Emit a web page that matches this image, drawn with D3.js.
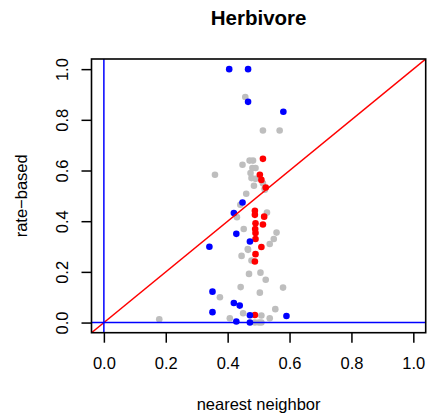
<!DOCTYPE html>
<html>
<head>
<meta charset="utf-8">
<script src="https://cdn.jsdelivr.net/npm/d3@7"></script>
<style>
  body { margin: 0; background: white; }
  text { font-family: "Liberation Sans", Arial, sans-serif; }
</style>
</head>
<body>
<div id="chart"></div>
<script>
// grey points (all pairs)
var greyX = [0.179, 0.359, 0.375, 0.407, 0.441, 0.442, 0.445, 0.448, 0.450, 0.452, 0.457, 0.460, 0.466, 0.469,
  0.471, 0.474, 0.477, 0.477, 0.480, 0.482, 0.485, 0.488, 0.490, 0.501, 0.504, 0.506, 0.509, 0.514, 0.514, 0.520,
  0.523, 0.527, 0.430, 0.536, 0.536, 0.549, 0.554, 0.558, 0.568, 0.579, 0.509, 0.490, 0.520, 0.465];
var greyY = [0.013, 0.583, 0.100, 0.017, 0.465, 0.140, 0.263, 0.623, 0.037, 0.369, 0.890, 0.508, 0.287, 0.192,
  0.639, 0.590, 0.570, 0.245, 0.610, 0.639, 0.540, 0.000, 0.610, 0.000, 0.118, 0.197, 0.028, 0.758, 0.550, 0.524,
  0.169, 0.434, 0.416, 0.310, 0.017, 0.330, 0.053, 0.355, 0.758, 0.138, 0.000, 0.567, 0.530, 0.290];

// blue points
var blueX = [0.405, 0.466, 0.466, 0.580, 0.448, 0.420, 0.428, 0.472, 0.341, 0.351, 0.420, 0.439, 0.351, 0.472,
  0.590, 0.428, 0.472];
var blueY = [1.000, 1.000, 0.871, 0.832, 0.474, 0.432, 0.350, 0.320, 0.299, 0.122, 0.077, 0.067, 0.041, 0.029,
  0.026, 0.004, 0.000];

// red points
var redX = [0.514, 0.504, 0.509, 0.523, 0.488, 0.488, 0.518, 0.490, 0.514, 0.489, 0.490, 0.490, 0.509, 0.490,
  0.488, 0.488];
var redY = [0.646, 0.583, 0.563, 0.533, 0.441, 0.425, 0.418, 0.392, 0.387, 0.369, 0.353, 0.330, 0.298, 0.270,
  0.241, 0.030];

var xTicks = [0, 0.2, 0.4, 0.6, 0.8, 1.0];
var yTicks = [0, 0.2, 0.4, 0.6, 0.8, 1.0];

var width = 438, height = 418;
var box = { left: 91.5, right: 425.7, top: 59, bottom: 332.7 };

var x = d3.scaleLinear().domain([-0.04, 1.04]).range([box.left, box.right]);
var y = d3.scaleLinear().domain([-0.04, 1.04]).range([box.bottom, box.top]);

var svg = d3.select('#chart').append('svg').attr('width', width).attr('height', height);

svg.append('defs').append('clipPath').attr('id', 'clip')
  .append('rect').attr('x', box.left).attr('y', box.top)
  .attr('width', box.right - box.left).attr('height', box.bottom - box.top);

var toPoints = function(xs, ys) {
  return xs.map(function(v, i) { return { x: v, y: ys[i] }; });
};

var drawPoints = function(data, color) {
  svg.append('g').selectAll('circle').data(data).enter().append('circle')
    .attr('cx', d => x(d.x))
    .attr('cy', d => y(d.y))
    .attr('r', 3.3)
    .attr('fill', color);
};

drawPoints(toPoints(greyX, greyY), '#bebebe');
drawPoints(toPoints(redX, redY), '#ff0000');
drawPoints(toPoints(blueX, blueY), '#0000ff');

// reference lines
var lines = svg.append('g').attr('clip-path', 'url(#clip)');
lines.append('line').attr('x1', x(-0.1)).attr('y1', y(-0.1)).attr('x2', x(1.1)).attr('y2', y(1.1))
  .attr('stroke', '#ff0000').attr('stroke-width', 1.5);
lines.append('line').attr('x1', x(0)).attr('y1', box.top).attr('x2', x(0)).attr('y2', box.bottom)
  .attr('stroke', '#0000ff').attr('stroke-width', 1.5);
lines.append('line').attr('x1', box.left).attr('y1', y(0)).attr('x2', box.right).attr('y2', y(0))
  .attr('stroke', '#0000ff').attr('stroke-width', 1.5);

// box
svg.append('rect').attr('x', box.left).attr('y', box.top)
  .attr('width', box.right - box.left).attr('height', box.bottom - box.top)
  .attr('fill', 'none').attr('stroke', 'black').attr('stroke-width', 1.6);

// axes (ticks only, the box is the axis line)
var xAxis = svg.append('g').attr('transform', `translate(0,${box.bottom})`)
  .call(d3.axisBottom(x).tickValues(xTicks).tickFormat(d3.format('.1f')).tickSize(10).tickPadding(10));
var yAxis = svg.append('g').attr('transform', `translate(${box.left},0)`)
  .call(d3.axisLeft(y).tickValues(yTicks).tickFormat(d3.format('.1f')).tickSize(10).tickPadding(10));

[xAxis, yAxis].forEach(function(ax) {
  ax.select('.domain').remove();
  ax.selectAll('.tick line').attr('stroke', 'black').attr('stroke-width', 1.5);
  ax.selectAll('.tick text').attr('fill', 'black').style('font-size', '16.5px')
    .style('font-family', '"Liberation Sans", Arial, sans-serif');
});
xAxis.selectAll('.tick text').attr('y', null).attr('dy', null).attr('transform', 'translate(0,36.5)');
yAxis.selectAll('.tick text')
  .attr('x', null).attr('dy', null)
  .attr('text-anchor', 'middle')
  .attr('transform', 'translate(-23.2,0) rotate(-90)');

// titles
svg.append('text').attr('x', (box.left + box.right) / 2).attr('y', 25)
  .attr('text-anchor', 'middle').style('font-size', '20.5px').style('font-weight', 'bold')
  .text('Herbivore');
svg.append('text').attr('x', (box.left + box.right) / 2).attr('y', 410)
  .attr('text-anchor', 'middle').style('font-size', '16.5px')
  .text('nearest neighbor');
svg.append('text').attr('transform', `translate(27.3,${(box.top + box.bottom) / 2}) rotate(-90)`)
  .attr('text-anchor', 'middle').style('font-size', '16.5px')
  .text('rate\u2212based');
</script>
</body>
</html>
